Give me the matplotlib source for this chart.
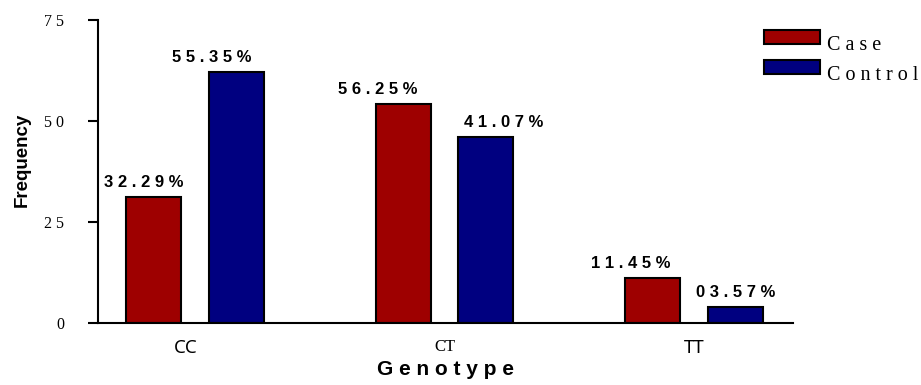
import matplotlib.pyplot as plt
from matplotlib.patches import Rectangle
from matplotlib.transforms import ScaledTranslation

# dados
genotypes = ['CC', 'CT', 'TT']
case_freq = [31, 54, 11]
control_freq = [62, 46, 4]
case_labels = ['3 2 . 2 9 %', '5 6 . 2 5 %', '1 1 . 4 5 %']
control_labels = ['5 5 . 3 5 %', '4 1 . 0 7 %', '0 3 . 5 7 %']
yticks = [0, 25, 50, 75]
ytick_labels = ['0', '2 5', '5 0', '7 5']
series = ['C a s e', 'C o n t r o l']

case_color = '#9e0000'
control_color = '#000080'

W, H = 921, 385
fig = plt.figure(figsize=(W / 100, H / 100), dpi=100)
ax = fig.add_axes([98 / W, 1 - 322.7 / H, 695 / W, 303.2 / H])

x = list(range(len(genotypes)))
w = 0.22
off = 0.166
bars_case = ax.bar([i - off for i in x], case_freq, w, color=case_color,
                   edgecolor='black', linewidth=1.5)
bars_ctrl = ax.bar([i + off for i in x], control_freq, w, color=control_color,
                   edgecolor='black', linewidth=1.5)

# rotulos de valor (deslocamento horizontal em pixels, como no original)
case_dx = [-10, -25, -22]
ctrl_dx = [-25, 18, 0]
for bars, labels, dxs in [(bars_case, case_labels, case_dx),
                          (bars_ctrl, control_labels, ctrl_dx)]:
    for b, lab, dx in zip(bars, labels, dxs):
        ax.annotate(lab, (b.get_x() + b.get_width() / 2, b.get_height()),
                    xytext=(dx * 0.72, 5), textcoords='offset points',
                    ha='center', va='bottom', fontsize=12,
                    fontweight='bold', family='Liberation Sans')

ax.set_xlim(-0.388, 2.396)
ax.set_ylim(0, 75)
ax.spines['top'].set_visible(False)
ax.spines['right'].set_visible(False)
ax.spines['left'].set_linewidth(1.5)
ax.spines['bottom'].set_linewidth(1.5)

ax.set_yticks(yticks)
ax.set_yticklabels(ytick_labels, family='Liberation Serif', fontsize=11.5)
ax.tick_params(axis='y', direction='out', length=7.2, width=1.5, pad=17)

ax.set_xticks(x)
ax.set_xticklabels(genotypes)
ax.tick_params(axis='x', length=0, pad=12)
tl = ax.get_xticklabels()
for t, fam, size in zip(tl, ['Noto Sans', 'Liberation Serif', 'Noto Sans'],
                        [13.5, 12, 13.5]):
    t.set_fontfamily(fam)
    t.set_fontsize(size)
tl[0].set_transform(tl[0].get_transform() +
                    ScaledTranslation(-9 / 100, 0, fig.dpi_scale_trans))

ax.set_xlabel('G e n o t y p e', fontsize=15, fontweight='bold',
              family='Liberation Sans', labelpad=2)
ax.set_ylabel('Frequency', fontsize=13.5, fontweight='bold',
              family='Liberation Sans', labelpad=10)
ax.yaxis.label.set_y((322.7 - 160) / 303.2)

# legenda
colors = [case_color, control_color]
patch_top = [30, 60]
text_y = [45, 75]
for name, col, py, ty in zip(series, colors, patch_top, text_y):
    fig.add_artist(Rectangle((764 / W, 1 - (py + 14) / H), 56 / W, 14 / H,
                             facecolor=col, edgecolor='black', linewidth=1.5,
                             transform=fig.transFigure))
    fig.text(827 / W, 1 - ty / H, name, va='center', ha='left',
             family='Liberation Serif', fontsize=14.5)

fig.savefig('out.png', dpi=100)
